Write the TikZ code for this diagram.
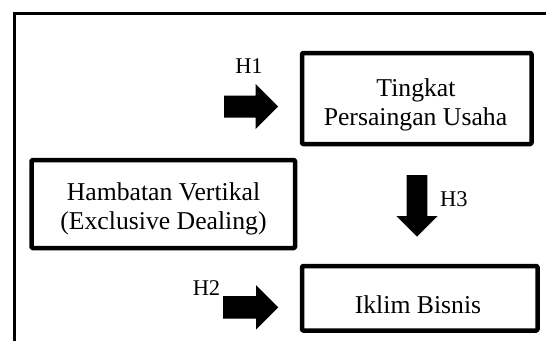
\documentclass[tikz,border=0pt]{standalone}
\usepackage{fontspec}
\setmainfont{Liberation Serif}
\begin{document}
\begin{tikzpicture}[x=1pt,y=-1pt,
  box/.style={draw=black,line width=4.5pt,line join=round,rounded corners=1pt},
  frame/.style={draw=black,line width=3.5pt},
  txt/.style={inner sep=0pt,anchor=base,font=\fontsize{25.7}{29.6}\selectfont},
  lbl/.style={inner sep=0pt,anchor=base,font=\fontsize{22.5}{26}\selectfont},
  blockarrow/.style={fill=black}]
\useasboundingbox (0,0) rectangle (546,340);
\path[fill=white] (0,0) rectangle (546,340);
% outer frame (partially visible)
\draw[frame] (14.7,345) -- (14.7,13.5) -- (552,13.5);
% boxes
\draw[box] (302,53) rectangle (531.5,144);
\draw[box] (31.5,160) rectangle (295,248);
\draw[box] (302,266) rectangle (537.5,330.5);
% texts
\node[txt] (t1a) at (416,96) {Tingkat};
\node[txt] (t1b) at (415.5,125.4) {Persaingan Usaha};
\node[txt] (t2a) at (163.5,200.5) {Hambatan Vertikal};
\node[txt] (t2b) at (163.5,229.4) {(Exclusive Dealing)};
\node[txt] (t3) at (418,313) {Iklim Bisnis};
% labels
\node[lbl] (h1) at (249,73) {H1};
\node[lbl,anchor=base west] (h3) at (440,206) {H3};
\node[lbl] (h2) at (206.5,295) {H2};
% block arrows
\fill[blockarrow] (224,95.5) -- (255.5,95.5) -- (255.5,84) -- (278,106.5) -- (255.5,129) -- (255.5,117.5) -- (224,117.5) -- cycle;
\fill[blockarrow] (223,296) -- (256,296) -- (256,285) -- (278.3,307.3) -- (256,329.6) -- (256,318.5) -- (223,318.5) -- cycle;
\fill[blockarrow] (406.7,175) -- (427.3,175) -- (427.3,216) -- (437.7,216) -- (417,236.5) -- (396.3,216) -- (406.7,216) -- cycle;
\end{tikzpicture}
\end{document}
